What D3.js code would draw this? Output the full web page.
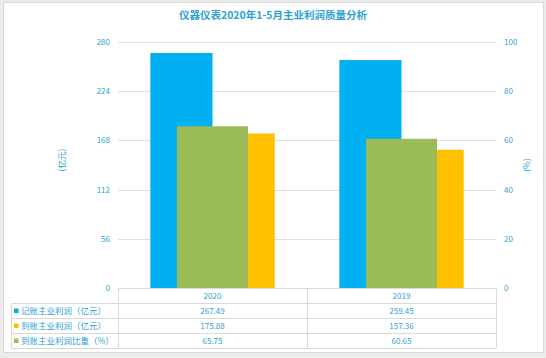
<!DOCTYPE html>
<html>
<head>
<meta charset="utf-8">
<script src="https://cdn.jsdelivr.net/npm/d3@7"></script>
<style>
  body { margin: 0; background: #ececec; }
  svg { display: block; }
</style>
</head>
<body>
<div id="chart"></div>
<script>
var figw = 546
var figh = 358

// data
var categories = ["2020", "2019"]
var bookProfit = [267.49, 259.45]
var cashProfit = [175.88, 157.36]
var cashRatio = [65.75, 60.65]
var leftTicks = [0, 56, 112, 168, 224, 280]
var rightTicks = [0, 20, 40, 60, 80, 100]
var seriesNames = ["记账主业利润（亿元）", "到账主业利润（亿元）", "到账主业利润比重（%）"]
var seriesColors = ["#00b0f0", "#ffc000", "#9bbb59"]
var title = "仪器仪表2020年1-5月主业利润质量分析"

var txt = "#2f9fd6"
var font = "'Noto Sans CJK SC', 'Noto Sans', sans-serif"

var plot = {left: 118, right: 496, top: 42, bottom: 288}

var svg = d3.select("#chart")
  .append("svg")
    .attr("width", figw)
    .attr("height", figh)
    .style("font-family", font)

// chart frame
svg.append("rect")
  .attr("x", 3.5).attr("y", 2.5)
  .attr("width", 540).attr("height", 350)
  .attr("fill", "#fff")
  .attr("stroke", "#d9d9d9")

svg.append("text")
  .attr("x", 273).attr("y", 19)
  .attr("text-anchor", "middle")
  .attr("font-size", "10.5px")
  .attr("font-weight", "bold")
  .attr("fill", txt)
  .text(title)

var x = d3.scaleBand()
  .domain(categories)
  .range([plot.left, plot.right])

// primary series are clustered, the ratio series sits on top (secondary axis)
var xPrim = d3.scaleBand()
  .domain([0, 1])
  .range([0, x.bandwidth()])
  .paddingOuter(0.52)

var xSec = d3.scaleBand()
  .domain([0])
  .range([0, x.bandwidth()])
  .paddingOuter(0.83)

var y = d3.scaleLinear()
  .domain([0, 280])
  .range([plot.bottom, plot.top])

var y2 = d3.scaleLinear()
  .domain([0, 100])
  .range([plot.bottom, plot.top])

// gridlines
svg.append("g")
  .selectAll("line")
  .data(leftTicks.slice(1))
  .enter()
  .append("line")
    .attr("x1", plot.left).attr("x2", plot.right)
    .attr("y1", function(d){ return Math.round(y(d)) + 0.5 })
    .attr("y2", function(d){ return Math.round(y(d)) + 0.5 })
    .attr("stroke", "#e0e0e0")

// left axis
var axL = svg.append("g")
  .attr("transform", "translate(" + (plot.left - 8) + ",0)")
  .call(d3.axisLeft(y).tickValues(leftTicks).tickSize(0).tickPadding(0))
axL.select(".domain").remove()
axL.selectAll("text").attr("fill", txt).attr("font-size", "8px").attr("font-family", font)

// right axis
var axR = svg.append("g")
  .attr("transform", "translate(" + (plot.right + 8) + ",0)")
  .call(d3.axisRight(y2).tickValues(rightTicks).tickSize(0).tickPadding(0))
axR.select(".domain").remove()
axR.selectAll("text").attr("fill", txt).attr("font-size", "8px").attr("font-family", font)

svg.append("text")
  .attr("transform", "translate(65,160) rotate(-90)")
  .attr("text-anchor", "middle")
  .attr("font-size", "8.5px")
  .attr("fill", txt)
  .text("(亿元)")

svg.append("text")
  .attr("transform", "translate(530,165) rotate(-90)")
  .attr("text-anchor", "middle")
  .attr("font-size", "8.5px")
  .attr("fill", txt)
  .text("(%)")

// bars
var primSeries = [bookProfit, cashProfit]
primSeries.forEach(function(vals, si) {
  svg.append("g")
    .selectAll("rect")
    .data(categories)
    .enter()
    .append("rect")
      .attr("x", function(d){ return x(d) + xPrim(si) })
      .attr("width", xPrim.bandwidth())
      .attr("y", function(d, i){ return y(vals[i]) })
      .attr("height", function(d, i){ return y(0) - y(vals[i]) })
      .attr("fill", seriesColors[si])
})

svg.append("g")
  .selectAll("rect")
  .data(categories)
  .enter()
  .append("rect")
    .attr("x", function(d){ return x(d) + xSec(0) })
    .attr("width", xSec.bandwidth())
    .attr("y", function(d, i){ return y2(cashRatio[i]) })
    .attr("height", function(d, i){ return y2(0) - y2(cashRatio[i]) })
    .attr("fill", seriesColors[2])

// data table
var rowH = 15
var legendLeft = 11.5
var tbl = svg.append("g").attr("stroke", "#d9d9d9").attr("fill", "none")
var tableTop = plot.bottom + 0.5
// horizontal lines
tbl.append("line")
  .attr("x1", plot.left).attr("x2", plot.right)
  .attr("y1", tableTop).attr("y2", tableTop)
d3.range(1, 4 + 1).forEach(function(r) {
  tbl.append("line")
    .attr("x1", legendLeft).attr("x2", plot.right)
    .attr("y1", tableTop + r * rowH).attr("y2", tableTop + r * rowH)
})
// vertical lines
tbl.append("line")
  .attr("x1", legendLeft).attr("x2", legendLeft)
  .attr("y1", tableTop + rowH).attr("y2", tableTop + 4 * rowH)
var colEdges = [plot.left].concat(categories.map(function(c){ return x(c) + x.bandwidth() }))
colEdges.forEach(function(e) {
  tbl.append("line")
    .attr("x1", Math.round(e) + 0.5).attr("x2", Math.round(e) + 0.5)
    .attr("y1", tableTop).attr("y2", tableTop + 4 * rowH)
})

// header
svg.append("g")
  .selectAll("text")
  .data(categories)
  .enter()
  .append("text")
    .attr("x", function(d){ return x(d) + x.bandwidth() / 2 })
    .attr("y", tableTop + rowH / 2 + 3)
    .attr("text-anchor", "middle")
    .attr("font-size", "8px")
    .attr("fill", txt)
    .text(function(d){ return d })

var tableRows = [bookProfit, cashProfit, cashRatio]
var legendColors = [seriesColors[0], seriesColors[1], seriesColors[2]]
tableRows.forEach(function(vals, r) {
  var cy = tableTop + (r + 1) * rowH + rowH / 2
  svg.append("rect")
    .attr("x", 14).attr("y", cy - 2.5)
    .attr("width", 4.5).attr("height", 4.5)
    .attr("fill", legendColors[r])
  svg.append("text")
    .attr("x", 21).attr("y", cy + 3)
    .attr("font-size", "8.5px")
    .attr("fill", txt)
    .text(seriesNames[r])
  svg.append("g")
    .selectAll("text")
    .data(categories)
    .enter()
    .append("text")
      .attr("x", function(d){ return x(d) + x.bandwidth() / 2 })
      .attr("y", cy + 3)
      .attr("text-anchor", "middle")
      .attr("font-size", "8px")
      .attr("fill", txt)
      .text(function(d, i){ return vals[i].toFixed(2) })
})
</script>
</body>
</html>
